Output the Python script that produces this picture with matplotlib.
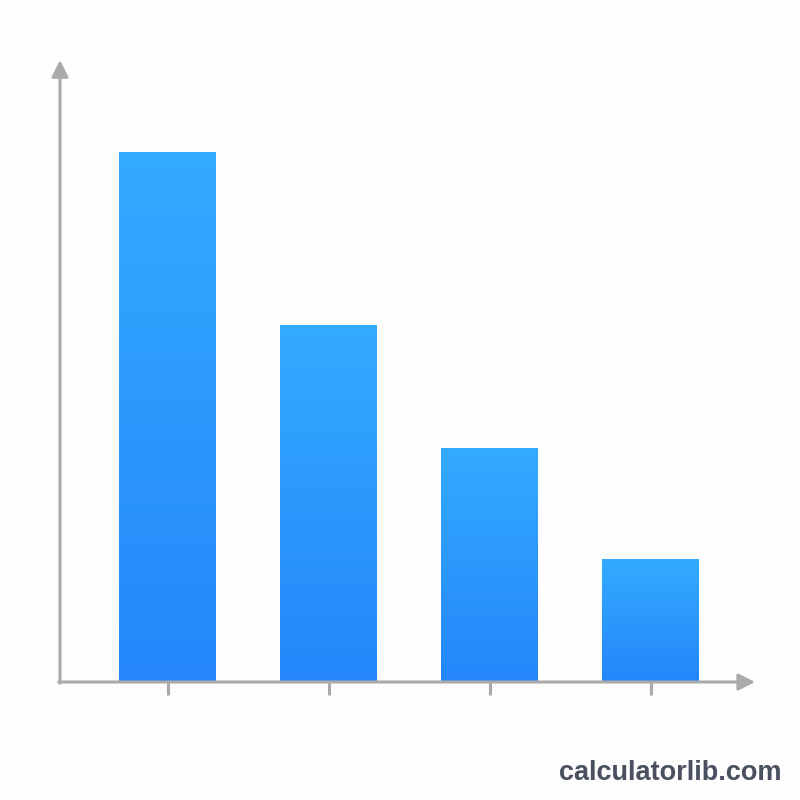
import numpy as np
import matplotlib.pyplot as plt
from matplotlib.colors import LinearSegmentedColormap

# data
categories = ["A", "B", "C", "D"]
values = [86, 58, 38, 20]

axis_col = "#aaaaaa"
bar_cmap = LinearSegmentedColormap.from_list("blues", ["#2486fa", "#33abff"])

fig = plt.figure(figsize=(8, 8), dpi=100, facecolor="#fdfdfd")
ax = fig.add_axes([0.075, 0.1475, 0.869, 0.7775])
ax.set_facecolor("#fdfdfd")

x = np.arange(len(categories))
width = 0.602
bars = ax.bar(x, values, width=width, color="none")

# vertical gradient inside each bar
grad = np.linspace(0, 1, 256).reshape(-1, 1)
for b in bars:
    x0, y0 = b.get_x(), b.get_y()
    im = ax.imshow(grad, cmap=bar_cmap, origin="lower", aspect="auto",
                   extent=(x0, x0 + b.get_width(), y0, y0 + b.get_height()),
                   zorder=2)
    im.set_clip_path(b)

ax.set_xlim(-0.668, 3.649)
ax.set_ylim(0, 101)

for s in ax.spines.values():
    s.set_visible(False)
ax.set_xticks(x)
ax.set_xticklabels([])
ax.set_yticks([])
ax.tick_params(axis="x", direction="out", length=9, width=2.2, color=axis_col)

# axes with arrowheads
arrow = dict(arrowstyle="-|>,head_length=1.0,head_width=0.5", color=axis_col,
             lw=2.2, shrinkA=0, shrinkB=0)
ax.annotate("", xy=(0, 1), xytext=(0, -0.002), xycoords="axes fraction",
            arrowprops=arrow, annotation_clip=False)
ax.annotate("", xy=(1, 0), xytext=(-0.002, 0), xycoords="axes fraction",
            arrowprops=arrow, annotation_clip=False)

fig.text(0.9775, 0.025, "calculatorlib.com", ha="right", va="baseline",
         fontsize=19.5, fontweight="bold", color="#4a5060",
         family=["Liberation Sans", "DejaVu Sans"])

fig.savefig("out.png", dpi=100, facecolor=fig.get_facecolor())
